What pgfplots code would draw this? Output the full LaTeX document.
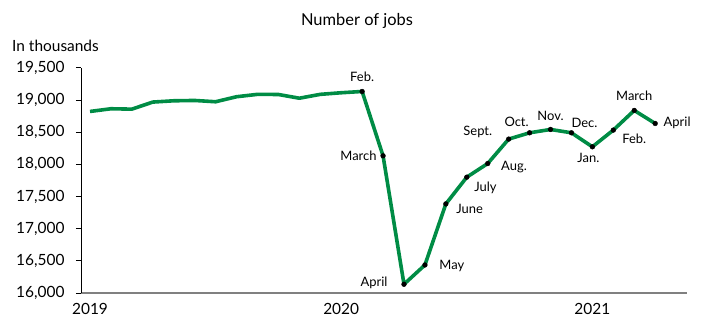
\documentclass[border=0pt]{standalone}
\usepackage{fontspec}
\setmainfont{Lato}
\usepackage{pgfplots}
\pgfplotsset{compat=1.18}
\definecolor{jobgreen}{RGB}{0,140,69}
\newcommand{\mfont}{\fontsize{13}{15}\selectfont}
\begin{document}
\begin{tikzpicture}
\path[use as bounding box] (0bp,0bp) rectangle (701bp,318bp);
\node[font=\fontsize{16.5}{18}\selectfont] at (357bp,297bp) {Number of jobs};
\node[anchor=west, font=\fontsize{15.5}{18}\selectfont, inner sep=0pt] at (12bp,272.5bp) {In thousands};
\begin{axis}[
  at={(81bp,25bp)}, anchor=south west,
  scale only axis, width=606bp, height=225bp,
  xmin=-0.43, xmax=28.52, ymin=16000, ymax=19500,
  axis x line=bottom, axis y line=left,
  x axis line style={-, draw=gray, line width=1.6bp},
  y axis line style={-, draw=black, line width=1bp},
  xtick={0,12,24}, xticklabels={2019,2020,2021},
  x tick style={draw=none},
  ytick={16000,16500,...,19500},
  scaled y ticks=false,
  y tick style={black, line width=1bp},
  tick align=outside, major tick length=5bp,
  yticklabel style={/pgf/number format/.cd, fixed, 1000 sep={,}, assume math mode=true, /tikz/.cd, xshift=-8bp},
  xticklabel style={yshift=-2bp},
  tick label style={font=\fontsize{15.5}{18}\selectfont},
  clip=false,
]
\addplot[jobgreen, line width=3.6bp, line join=round, no markers] coordinates {
(0,18824) (1,18866) (2,18860) (3,18970) (4,18990) (5,18995) (6,18975)
(7,19053) (8,19090) (9,19088) (10,19030) (11,19090) (12,19115) (13,19135)
(14,18134) (15,16136) (16,16436) (17,17386) (18,17802) (19,18014)
(20,18394) (21,18492) (22,18544) (23,18492) (24,18274) (25,18534)
(26,18840) (27,18637)
};
\addplot[only marks, mark=*, mark size=2.4bp, black] coordinates {
(13,19135) (14,18134) (15,16136) (16,16436) (17,17386) (18,17802) (19,18014)
(20,18394) (21,18492) (22,18544) (23,18492) (24,18274) (25,18534)
(26,18840) (27,18637)
};
\node[font=\mfont, yshift=15bp] at (axis cs:13,19135) {Feb.};
\node[font=\mfont, anchor=east, xshift=-3bp] at (axis cs:14,18134) {March};
\node[font=\mfont, anchor=east, xshift=-13bp, yshift=1bp] at (axis cs:15,16136) {April};
\node[font=\mfont, anchor=west, xshift=11bp, yshift=-1bp] at (axis cs:16,16436) {May};
\node[font=\mfont, anchor=west, xshift=7bp, yshift=-5bp] at (axis cs:17,17386) {June};
\node[font=\mfont, anchor=west, xshift=4bp, yshift=-11bp] at (axis cs:18,17802) {July};
\node[font=\mfont, anchor=west, xshift=10bp, yshift=-4bp] at (axis cs:19,18014) {Aug.};
\node[font=\mfont, anchor=east, xshift=-13bp, yshift=7bp] at (axis cs:20,18394) {Sept.};
\node[font=\mfont, xshift=-13bp, yshift=11bp] at (axis cs:21,18492) {Oct.};
\node[font=\mfont, yshift=14bp] at (axis cs:22,18544) {Nov.};
\node[font=\mfont, xshift=13bp, yshift=10bp] at (axis cs:23,18492) {Dec.};
\node[font=\mfont, xshift=-4bp, yshift=-11bp] at (axis cs:24,18274) {Jan.};
\node[font=\mfont, xshift=21bp, yshift=-9bp] at (axis cs:25,18534) {Feb.};
\node[font=\mfont, yshift=15bp] at (axis cs:26,18840) {March};
\node[font=\mfont, anchor=west, xshift=5bp, yshift=1bp] at (axis cs:27,18637) {April};
\end{axis}
\end{tikzpicture}
\end{document}
